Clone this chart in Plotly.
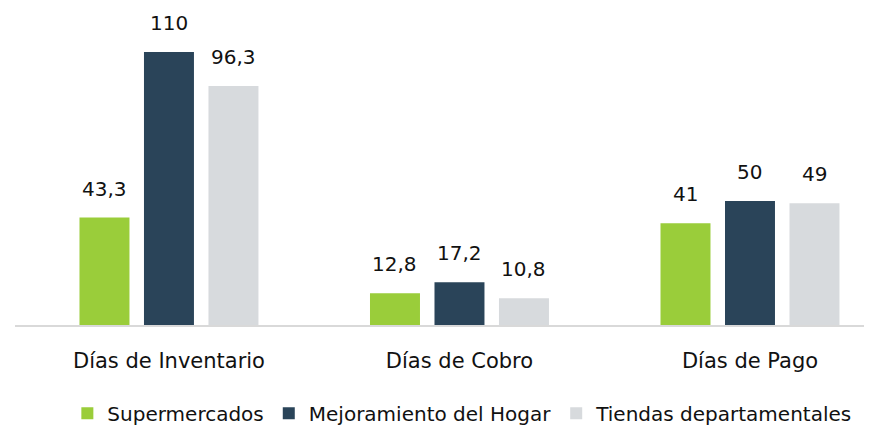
import plotly.graph_objects as go

categories = ["Días de Inventario", "Días de Cobro", "Días de Pago"]
series_names = ["Supermercados", "Mejoramiento del Hogar", "Tiendas departamentales"]
supermercados = [43.3, 12.8, 41]
mejoramiento = [110, 17.2, 50]
tiendas = [96.3, 10.8, 49]
colors = ["#9ACD3A", "#2A4459", "#D7DADD"]

def fmt(v):
    s = ("%g" % v).replace(".", ",")
    return s

FONT = "DejaVu Sans"
values = [supermercados, mejoramiento, tiendas]
fig = go.Figure()
for name, vals, col in zip(series_names, values, colors):
    fig.add_trace(go.Bar(x=categories, y=vals, name=name, marker=dict(color=col, line=dict(width=0))))

offsets = [-0.222, 0.0, 0.222]
annotations = []
for vals, off in zip(values, offsets):
    for i, v in enumerate(vals):
        annotations.append(dict(x=i + off, y=v, xref="x", yref="y", text=fmt(v),
                                showarrow=False, yanchor="middle", yshift=29,
                                font=dict(size=20, color="#111111", family=FONT)))

fig.update_layout(
    width=864, height=417,
    margin=dict(l=7, r=0, t=0, b=100, autoexpand=False),
    paper_bgcolor="white", plot_bgcolor="white",
    barmode="group", bargap=0.334, bargroupgap=0.225,
    font=dict(family=FONT, size=21, color="#111111"),
    annotations=annotations,
    showlegend=True,
    legend=dict(orientation="h", x=0.522, xanchor="center", y=-0.278, yanchor="middle",
                font=dict(size=20), itemwidth=30, tracegroupgap=0, itemsizing="constant"),
    xaxis=dict(range=[-0.53, 2.42], showline=True, linecolor="#D9D9D9", linewidth=2,
               ticks="", ticklabelstandoff=16, tickfont=dict(size=21), showgrid=False,
               automargin=False),
    yaxis=dict(range=[0, 127.7], visible=False, showgrid=False, zeroline=False, automargin=False),
)

fig.write_html("out.html")
